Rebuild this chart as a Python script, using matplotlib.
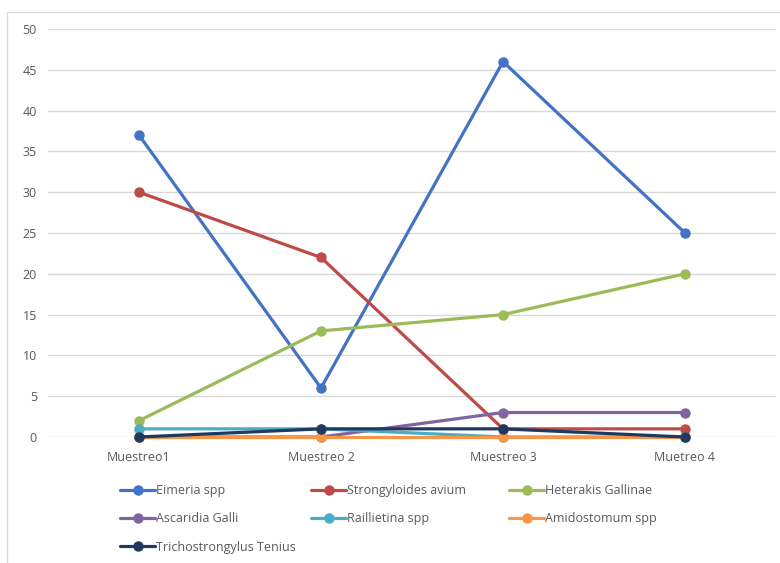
import matplotlib
matplotlib.use("Agg")
import matplotlib.pyplot as plt
from matplotlib.patches import Rectangle

plt.rcParams['font.family'] = ['Open Sans', 'DejaVu Sans']

categories = ["Muestreo1", "Muestreo 2", "Muestreo 3", "Muetreo 4"]
yticks = [0, 5, 10, 15, 20, 25, 30, 35, 40, 45, 50]

series_names = [
    "Eimeria spp",
    "Strongyloides avium",
    "Heterakis Gallinae",
    "Ascaridia Galli",
    "Raillietina spp",
    "Amidostomum spp",
    "Trichostrongylus Tenius",
]
eimeria = [37, 6, 46, 25]
strongyloides = [30, 22, 1, 1]
heterakis = [2, 13, 15, 20]
ascaridia = [0, 0, 3, 3]
raillietina = [1, 1, 0, 0]
amidostomum = [0, 0, 0, 0]
trichostrongylus = [0, 1, 1, 0]

series_values = [eimeria, strongyloides, heterakis, ascaridia,
                 raillietina, amidostomum, trichostrongylus]
colors = ["#4472C4", "#BE4B48", "#9BBB59", "#8064A2",
          "#4BACC6", "#F79646", "#1F3A60"]

fig = plt.figure(figsize=(7.8, 5.63), dpi=100)
W, H = 780, 563

# outer chart border
fig.patches.append(Rectangle((7 / W, 0 - 0.01), 1.0, 1 - 12 / H + 0.01,
                             transform=fig.transFigure, fill=False,
                             edgecolor="#D9D9D9", linewidth=1.0))

left, right, top, bottom = 48, 776, 29, 437
ax = fig.add_axes([left / W, 1 - bottom / H, (right - left) / W, (bottom - top) / H])

x = list(range(len(categories)))
handles = []
for name, vals, c in zip(series_names, series_values, colors):
    h, = ax.plot(x, vals, color=c, linewidth=2.3, marker="o", markersize=6.5,
                 solid_capstyle="round", label=name, clip_on=False)
    handles.append(h)

ax.set_xlim(-0.5, len(categories) - 0.5)
ax.set_ylim(0, 50)
ax.set_yticks(yticks)
ax.set_xticks(x)
ax.set_xticklabels(categories)
ax.tick_params(axis="both", length=0, labelsize=9, labelcolor="#595959")
ax.tick_params(axis="y", pad=8)
ax.tick_params(axis="x", pad=10)
ax.grid(axis="y", color="#D9D9D9", linewidth=1.0)
ax.set_axisbelow(True)
for s in ax.spines.values():
    s.set_visible(False)

# legend: entries laid out row by row, one legend block per column
columns = [[0, 3, 6], [1, 4], [2, 5]]
col_x = [120, 311, 509]
for idxs, cx in zip(columns, col_x):
    leg = fig.legend([handles[i] for i in idxs], [series_names[i] for i in idxs],
                     ncol=1, loc="upper left", bbox_to_anchor=(cx / W, 1 - 484 / H),
                     frameon=False, fontsize=9, labelcolor="#595959",
                     handlelength=2.8, handletextpad=0.1,
                     labelspacing=1.22, borderaxespad=0, borderpad=0)
    for t in leg.get_texts():
        t.set_color("#595959")

fig.savefig("out.png", dpi=100)
